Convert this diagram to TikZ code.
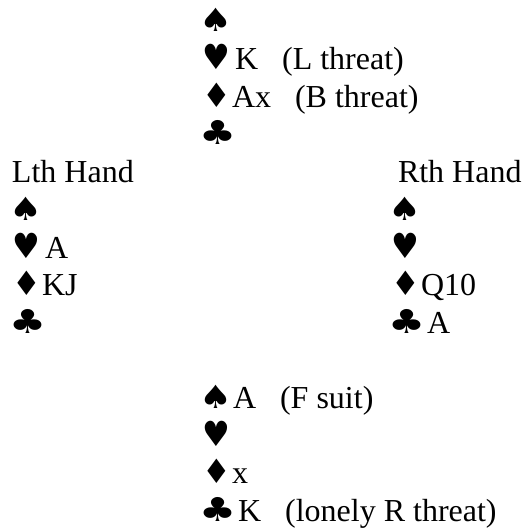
\documentclass[tikz,border=0pt]{standalone}
\usepackage{fontspec}
\setmainfont{Liberation Serif}
\newfontfamily\suitfont{DejaVu Sans}
% #1 glyph, #2 advance, #3 size, #4 left kern, #5 xscale, #6 yscale
\newcommand{\st}[6]{\makebox[#2pt][l]{\hspace{#4pt}\scalebox{#5}[#6]{\suitfont\fontsize{#3}{#3}\selectfont #1}}}
\newcommand{\sS}{\st{♠}{30}{32}{-4}{1.15}{1}}
\newcommand{\sH}{\st{♥}{32}{31}{-1}{1.0}{1.12}}
\newcommand{\sD}{\st{♦}{29}{32}{-1}{1}{1.05}}
\newcommand{\sC}{\st{♣}{35}{33}{-4}{1.25}{1}}
\newcommand{\gp}{\hspace{24pt}}
\begin{document}
\begin{tikzpicture}[x=1pt,y=-1pt,
  ln/.style={anchor=base west,inner sep=0pt,outer sep=0pt,font=\fontsize{32}{38}\selectfont}]
\useasboundingbox (0,0) rectangle (529,529);
% top hand
\node[ln] (t1) at (203,32) {\sS};
\node[ln] (t2) at (203,70) {\sH K\gp(L threat)};
\node[ln] (t3) at (203,107.5) {\sD Ax\gp(B threat)};
\node[ln] (t4) at (203,145) {\sC};
% left hand
\node[ln] (l0) at (12,183) {Lth Hand};
\node[ln] (l1) at (13,220.5) {\sS};
\node[ln] (l2) at (13,258) {\sH A};
\node[ln] (l3) at (13,295.5) {\sD KJ};
\node[ln] (l4) at (13,333) {\sC};
% right hand
\node[ln] (r0) at (398,183) {Rth Hand};
\node[ln] (r1) at (392,220.5) {\sS};
\node[ln] (r2) at (392,258) {\sH};
\node[ln] (r3) at (392,295.5) {\sD Q10};
\node[ln] (r4) at (392,333) {\sC A};
% bottom hand
\node[ln] (b1) at (203,408) {\sS A\gp(F suit)};
\node[ln] (b2) at (203,446) {\sH};
\node[ln] (b3) at (203,483.5) {\sD x};
\node[ln] (b4) at (203,521) {\sC K\gp(lonely R threat)};
\end{tikzpicture}
\end{document}
